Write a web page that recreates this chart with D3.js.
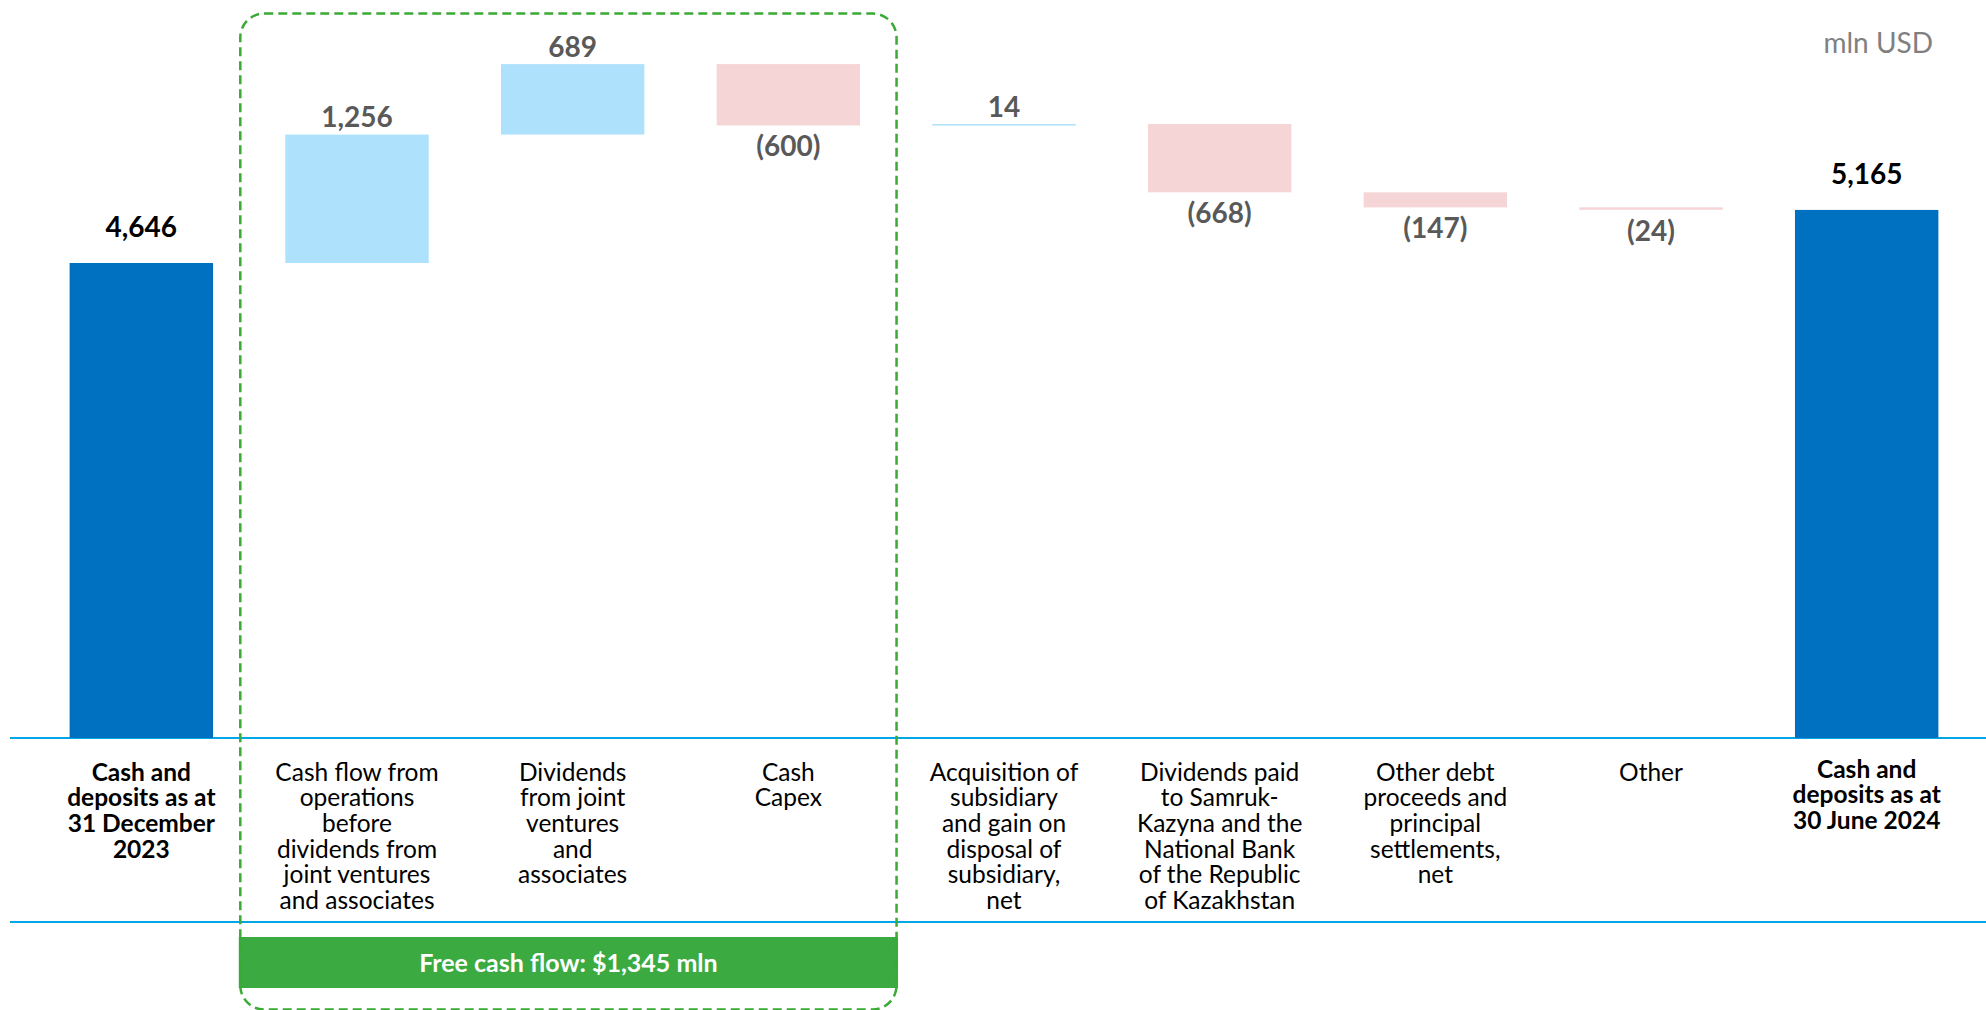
<!DOCTYPE html>
<html>
<head>
<meta charset="utf-8">
<script src="https://cdn.jsdelivr.net/npm/d3@7"></script>
<style>
	body { margin: 0; background: #fff; }
	svg { display: block; font-family: Lato, "Open Sans", sans-serif; }
</style>
</head>
<body>
<div id="chart"></div>
<script>
// chart values (mln USD)
var categories = ["open", "cfo", "divJV", "capex", "acq", "divPaid", "debt", "other", "close"];
var values = [4646, 1256, 689, -600, 14, -668, -147, -24, 5165];
var isTotal = [true, false, false, false, false, false, false, false, true];
var valueLabels = ["4,646", "1,256", "689", "(600)", "14", "(668)", "(147)", "(24)", "5,165"];
var categoryLines = [
	["Cash and", "deposits as at", "31 December", "2023"],
	["Cash flow from", "operations", "before", "dividends from", "joint ventures", "and associates"],
	["Dividends", "from joint", "ventures", "and", "associates"],
	["Cash", "Capex"],
	["Acquisition of", "subsidiary", "and gain on", "disposal of", "subsidiary,", "net"],
	["Dividends paid", "to Samruk-", "Kazyna and the", "National Bank", "of the Republic", "of Kazakhstan"],
	["Other debt", "proceeds and", "principal", "settlements,", "net"],
	["Other"],
	["Cash and", "deposits as at", "30 June 2024"]
];
var freeCashFlowLabel = "Free cash flow: $1,345 mln";
var unitLabel = "mln USD";

var width = 1986, height = 1010;
var baseY = 738;

var svg = d3.select("#chart").append("svg")
	.attr("width", width)
	.attr("height", height);

var x = d3.scaleBand()
	.domain(categories)
	.range([33.5, 1974.5])
	.paddingInner(0.335)
	.paddingOuter(0.1675);

var y = d3.scaleLinear()
	.domain([0, 7000])
	.range([baseY, baseY - 7000 * 0.10224]);

// build waterfall steps
var running = 0;
var steps = values.map(function(v, i) {
	var s;
	if (isTotal[i]) {
		s = { lo: 0, hi: v, v: v };
		running = v;
	} else {
		var start = running;
		running += v;
		s = { lo: Math.min(start, running), hi: Math.max(start, running), v: v };
	}
	s.key = categories[i];
	s.total = isTotal[i];
	s.label = valueLabels[i];
	return s;
});

var fillFor = function(d) {
	if (d.total) return "#0070c0";
	return d.v >= 0 ? "#aee2fc" : "#f5d5d6";
};

// axis lines
svg.append("line")
	.attr("x1", 10).attr("x2", width)
	.attr("y1", baseY).attr("y2", baseY)
	.attr("stroke", "#00a6e6").attr("stroke-width", 2);
svg.append("line")
	.attr("x1", 10).attr("x2", width)
	.attr("y1", 922).attr("y2", 922)
	.attr("stroke", "#00a6e6").attr("stroke-width", 2);

// bars
svg.selectAll("rect.bar")
	.data(steps)
	.enter().append("rect")
	.attr("class", "bar")
	.attr("x", function(d) { return x(d.key); })
	.attr("width", x.bandwidth())
	.attr("y", function(d) { return y(d.hi); })
	.attr("height", function(d) { return Math.max(1.5, y(d.lo) - y(d.hi)); })
	.attr("fill", fillFor);

// value labels
svg.selectAll("text.val")
	.data(steps)
	.enter().append("text")
	.attr("class", "val")
	.attr("x", function(d) { return x(d.key) + x.bandwidth() / 2; })
	.attr("y", function(d) {
		if (d.total) return y(d.hi) - 36;
		if (d.v >= 0) return y(d.hi) - 17;
		return y(d.lo) + 21;
	})
	.attr("dy", "0.35em")
	.attr("text-anchor", "middle")
	.attr("font-size", "28px")
	.attr("font-weight", "bold")
	.attr("fill", function(d) { return d.total ? "#000" : "#595959"; })
	.text(function(d) { return d.label; });

// category labels
var catG = svg.selectAll("text.cat")
	.data(steps)
	.enter().append("text")
	.attr("class", "cat")
	.attr("text-anchor", "middle")
	.attr("font-size", "24.5px")
	.attr("font-weight", function(d) { return d.total ? "bold" : "normal"; })
	.attr("fill", "#000");

catG.each(function(d, i) {
	var t = d3.select(this);
	var cx = x(d.key) + x.bandwidth() / 2;
	var startY = d.total && i > 0 ? 769 : 772;
	categoryLines[i].forEach(function(line, j) {
		t.append("tspan")
			.attr("x", cx)
			.attr("y", startY + j * 25.7)
			.attr("dy", "0.35em")
			.text(line);
	});
});

// free cash flow banner
var fcfLeft = x("cfo") - 46.5;
var fcfRight = x("capex") + x.bandwidth() + 38;
svg.append("rect")
	.attr("x", fcfLeft)
	.attr("y", 937)
	.attr("width", fcfRight - fcfLeft)
	.attr("height", 51)
	.attr("fill", "#3aaa41");
svg.append("text")
	.attr("x", (fcfLeft + fcfRight) / 2)
	.attr("y", 963)
	.attr("dy", "0.35em")
	.attr("text-anchor", "middle")
	.attr("font-size", "25px")
	.attr("font-weight", "bold")
	.attr("fill", "#fff")
	.text(freeCashFlowLabel);

// dashed group outline
svg.append("rect")
	.attr("x", fcfLeft + 1.5)
	.attr("y", 13.5)
	.attr("width", fcfRight - fcfLeft - 3)
	.attr("height", 996)
	.attr("rx", 24)
	.attr("fill", "none")
	.attr("stroke", "#3aaa35")
	.attr("stroke-width", 2.5)
	.attr("stroke-dasharray", "9,5");

// unit
svg.append("text")
	.attr("x", 1933)
	.attr("y", 43)
	.attr("dy", "0.35em")
	.attr("text-anchor", "end")
	.attr("font-size", "28px")
	.attr("fill", "#808080")
	.text(unitLabel);
</script>
</body>
</html>
